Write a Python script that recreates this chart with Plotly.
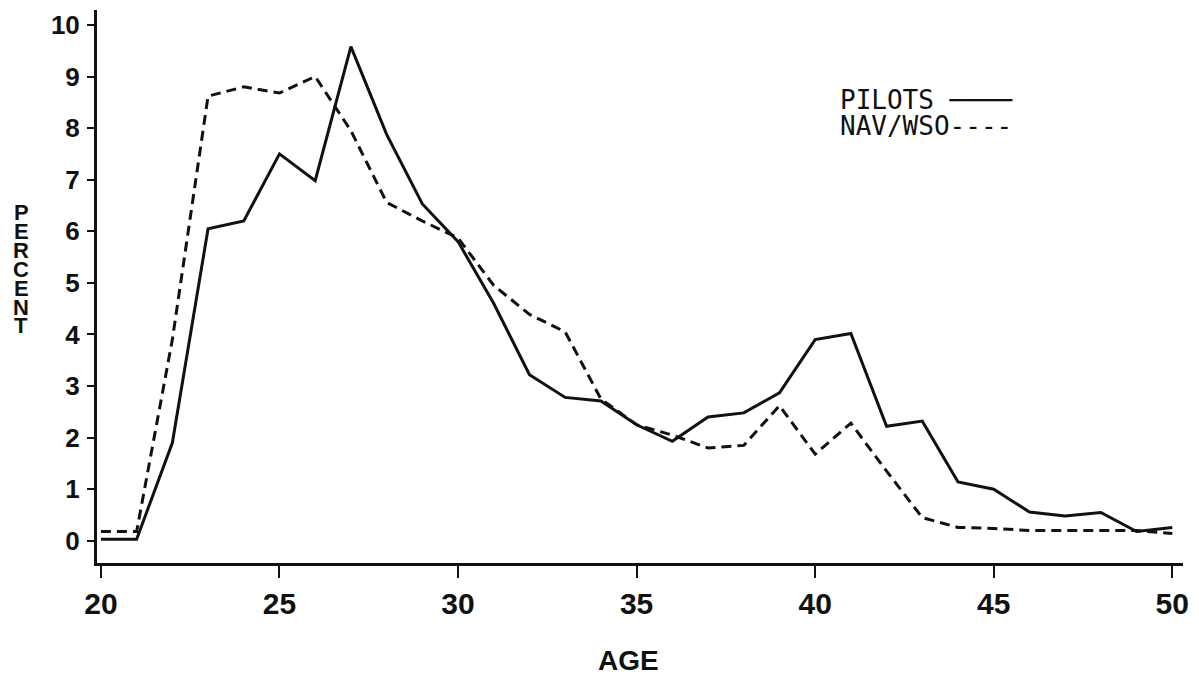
import plotly.graph_objects as go

ages = list(range(20, 51))
pilots = [0.03, 0.03, 1.9, 6.05, 6.2, 7.5, 6.98, 9.58, 7.88, 6.53, 5.8, 4.6, 3.22, 2.78, 2.71,
          2.25, 1.93, 2.4, 2.48, 2.87, 3.9, 4.02, 2.22, 2.32, 1.14, 1.0, 0.56, 0.48, 0.55, 0.18, 0.26]
nav_wso = [0.18, 0.18, 3.9, 8.62, 8.8, 8.68, 9.0, 7.95, 6.56, 6.2, 5.87, 4.95, 4.39, 4.05, 2.75,
           2.25, 2.05, 1.8, 1.85, 2.62, 1.68, 2.28, 1.35, 0.45, 0.26, 0.24, 0.2, 0.2, 0.2, 0.2, 0.14]
x_ticks = [20, 25, 30, 35, 40, 45, 50]
y_ticks = list(range(0, 11))

INK = "#111111"
BOLD = "Liberation Sans, Arial, sans-serif"
MONO = "DejaVu Sans Mono, Liberation Mono, monospace"

W, H = 1199, 678
# plot area in pixels: x 97..1183, y 10..563
L, R, T, B = 97, 16, 10, 115
PW, PH = W - L - R, H - T - B


def px(xp):
    return (xp - L) / PW


def py(yp):
    return (H - B - yp) / PH


fig = go.Figure()
fig.add_trace(go.Scatter(x=ages, y=pilots, mode="lines", name="PILOTS",
                         line=dict(color=INK, width=3)))
fig.add_trace(go.Scatter(x=ages, y=nav_wso, mode="lines", name="NAV/WSO",
                         line=dict(color=INK, width=3, dash="10px,6px")))

fig.update_layout(
    width=W, height=H,
    margin=dict(l=L, r=R, t=T, b=B),
    paper_bgcolor="white", plot_bgcolor="white",
    showlegend=False,
    xaxis=dict(range=[19.89, 50.3], tickvals=x_ticks, ticktext=[str(v) for v in x_ticks],
               showgrid=False, zeroline=False, showline=True, linecolor=INK, linewidth=3,
               ticks="outside", ticklen=12, tickwidth=2, tickcolor=INK,
               ticklabelstandoff=0,
               tickfont=dict(family=BOLD, size=30, color=INK, weight="bold")),
    yaxis=dict(range=[-0.43, 10.29], tickvals=y_ticks, ticktext=[str(v) for v in y_ticks],
               showgrid=False, zeroline=False, showline=True, linecolor=INK, linewidth=3,
               ticks="outside", ticklen=7, tickwidth=2, tickcolor=INK,
               ticklabelstandoff=2,
               tickfont=dict(family=BOLD, size=26, color=INK, weight="bold")),
)

# axis titles
fig.add_annotation(text="AGE", xref="paper", yref="paper", x=px(628), y=py(660),
                   xanchor="center", yanchor="middle", showarrow=False,
                   font=dict(family=BOLD, size=28, color=INK, weight="bold"))
for i, ch in enumerate("PERCENT"):
    fig.add_annotation(text=ch, xref="paper", yref="paper",
                       x=px(21), y=py(213 + i * 18.8),
                       xanchor="center", yanchor="middle", showarrow=False, borderpad=0,
                       font=dict(family=BOLD, size=22, color=INK, weight="bold"))

# legend (text followed by line sample)
fig.add_annotation(text="PILOTS ────", xref="paper", yref="paper",
                   x=px(838), y=py(100),
                   xanchor="left", yanchor="middle", showarrow=False,
                   font=dict(family=MONO, size=26, color=INK))
fig.add_annotation(text="NAV/WSO----", xref="paper", yref="paper",
                   x=px(838), y=py(126),
                   xanchor="left", yanchor="middle", showarrow=False,
                   font=dict(family=MONO, size=26, color=INK))

fig.write_html(
    "out.html",
    config={"displayModeBar": False},
    post_script="document.body.style.margin='0px';document.body.style.overflow='hidden';"
                "document.documentElement.style.overflow='hidden';",
)
